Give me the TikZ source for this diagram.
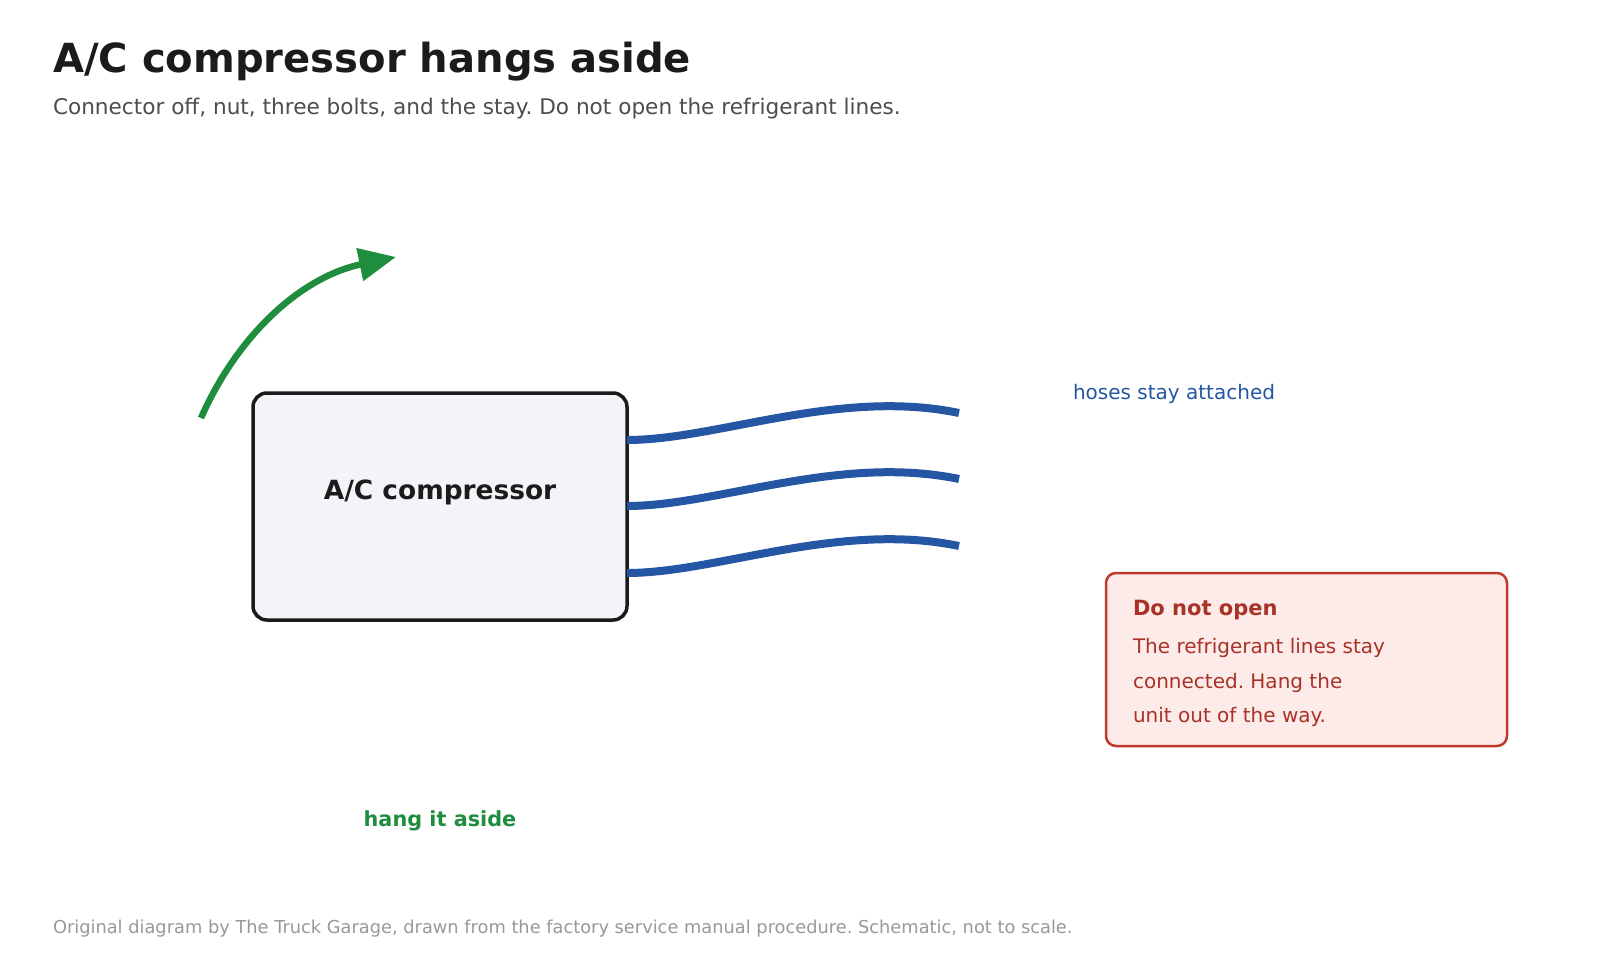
\documentclass[tikz,border=0pt]{standalone}
\usepackage{fontspec}
\setmainfont{DejaVu Sans}
\usetikzlibrary{arrows.meta}
\frenchspacing
\definecolor{ink}{HTML}{1B1B1B}
\definecolor{subgray}{HTML}{4D4D4D}
\definecolor{footgray}{HTML}{999999}
\definecolor{boxfill}{HTML}{F2F4F8}
\definecolor{hoseblue}{HTML}{2456A4}
\definecolor{hanggreen}{HTML}{1E8E3E}
\definecolor{warnred}{HTML}{C0392B}
\definecolor{warntext}{HTML}{A93226}
\definecolor{warnfill}{HTML}{FDEBEA}
\newcommand{\fs}[1]{\fontsize{#1}{#1}\selectfont}
\tikzset{
  txt/.style={inner sep=0pt, outer sep=0pt, anchor=base west},
  unitbox/.style={draw=ink, line width=3.5pt, fill=boxfill, rounded corners=14pt},
  hose/.style={draw=hoseblue, line width=8pt},
  warnbox/.style={draw=warnred, line width=2.5pt, fill=warnfill, rounded corners=10pt},
  hangarrow/.style={draw=hanggreen, line width=6.5pt, -{Triangle[length=37pt,width=32pt]}}
}
\begin{document}
\begin{tikzpicture}[x=1pt,y=-1pt]
\useasboundingbox (0,0) rectangle (1600,960);
\fill[white] (0,0) rectangle (1600,960);
% titles
\node[txt, text=ink, font=\fs{40.1}\bfseries] (title) at (53,73) {A/C compressor hangs aside};
\node[txt, text=subgray, font=\fs{21.6}] (subtitle) at (53,115) {Connector off, nut, three bolts, and the stay. Do not open the refrigerant lines.};
% compressor
\draw[unitbox] (253,393) rectangle (627,620);
\node[inner sep=0pt, anchor=base, text=ink, font=\fs{26.4}\bfseries] (comp) at (440,499) {A/C compressor};
% hoses
\coordinate (h1s) at (627,440);
\coordinate (h2s) at (627,506);
\coordinate (h3s) at (627,573);
\coordinate (h1e) at (959,413);
\coordinate (h2e) at (959,479);
\coordinate (h3e) at (959,546);
\draw[hose] (h1s) .. controls +(90,0) and +(-120,-25) .. (h1e);
\draw[hose] (h2s) .. controls +(90,0) and +(-120,-25) .. (h2e);
\draw[hose] (h3s) .. controls +(90,0) and +(-120,-25) .. (h3e);
\node[txt, text=hoseblue, font=\fs{20}] (hoselbl) at (1073,399) {hoses stay attached};
% hang arrow
\coordinate (as) at (201,418);
\coordinate (ae) at (396,257);
\draw[hangarrow] (as) .. controls (240,330) and (305,276) .. (ae);
\node[inner sep=0pt, anchor=base, text=hanggreen, font=\fs{20.8}\bfseries] (hanglbl) at (440,826) {hang it aside};
% warning
\draw[warnbox] (1106,573) rectangle (1507,746);
\node[txt, text=warntext, font=\fs{21}\bfseries] (warnhead) at (1133,615) {Do not open};
\node[txt, text=warntext, font=\fs{20}] (warn1) at (1133,653) {The refrigerant lines stay};
\node[txt, text=warntext, font=\fs{20}] (warn2) at (1133,688) {connected. Hang the};
\node[txt, text=warntext, font=\fs{20}] (warn3) at (1133,722) {unit out of the way.};
% footer
\node[txt, text=footgray, font=\fs{17.8}] (footer) at (53,933) {Original diagram by The Truck Garage, drawn from the factory service manual procedure. Schematic, not to scale.};
\end{tikzpicture}
\end{document}
